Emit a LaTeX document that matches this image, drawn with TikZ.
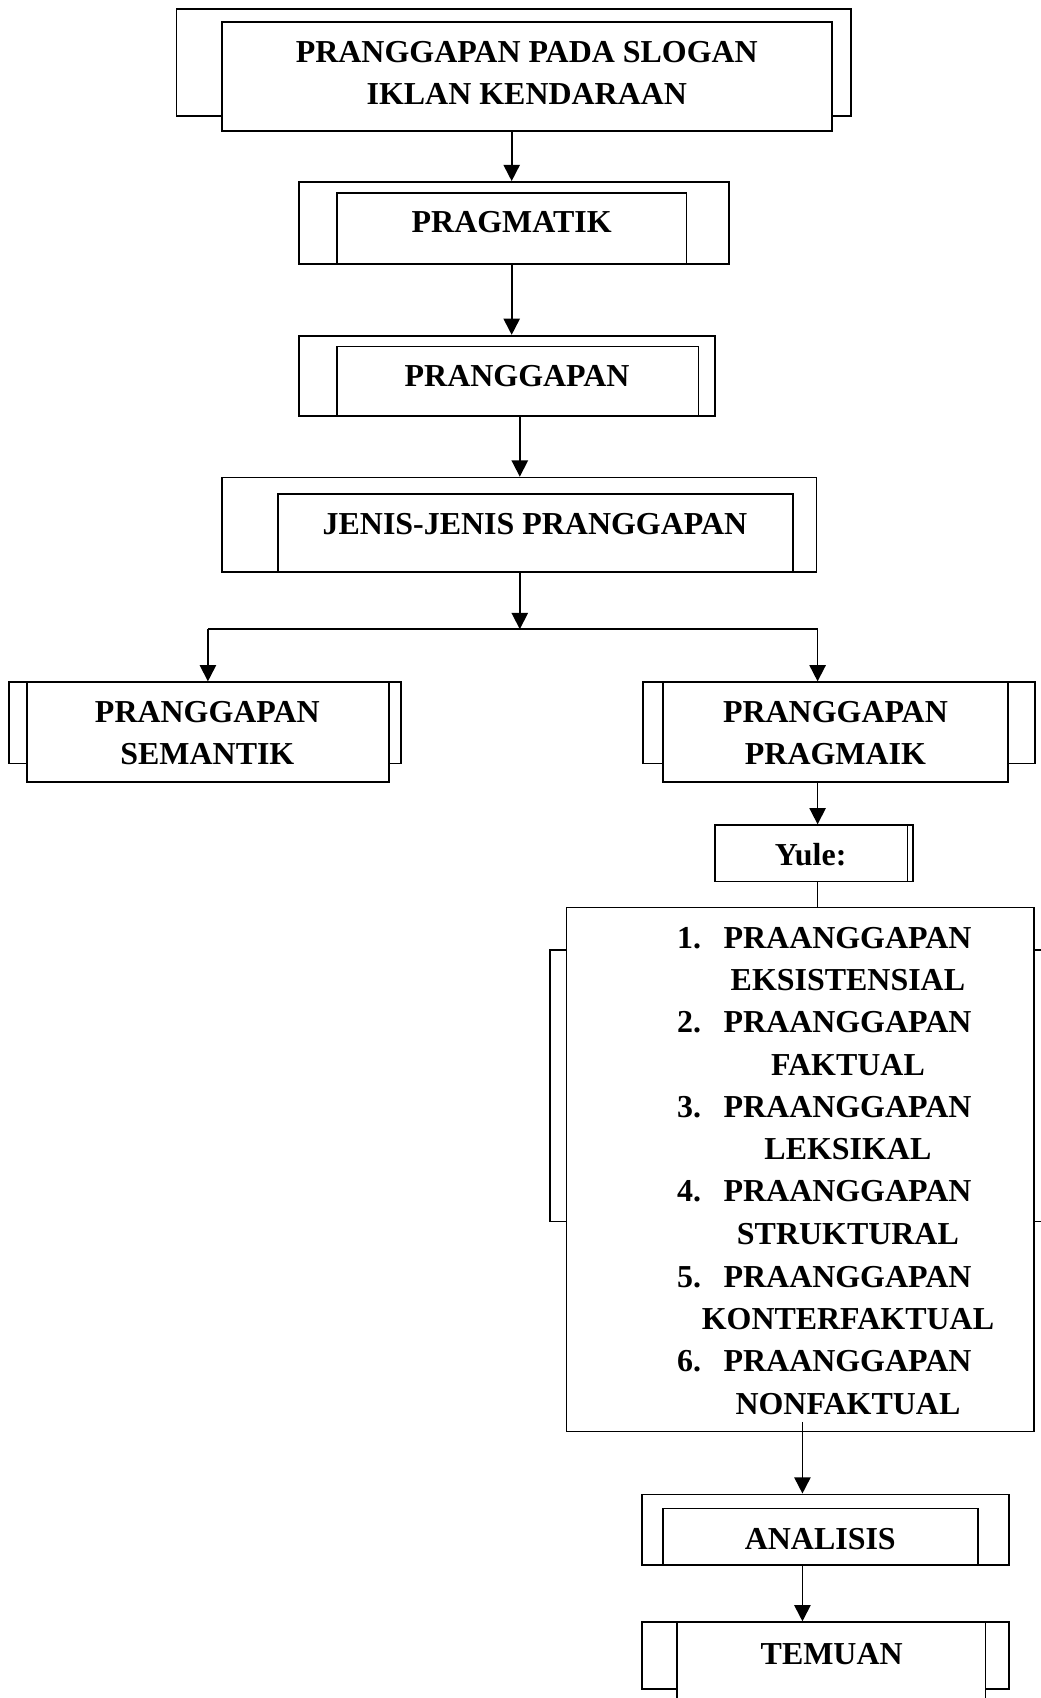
\documentclass[tikz,border=0pt]{standalone}
\usepackage{fontspec}
\setmainfont{Liberation Serif}
\usetikzlibrary{arrows.meta}
\begin{document}
\begin{tikzpicture}[x=1pt,y=-1pt,
  box/.style={draw, fill=white, line width=1.6pt, inner sep=0pt, rectangle},
  lbl/.style={font=\bfseries\fontsize{29.5}{39}\selectfont, inner sep=0pt, text depth=0pt},
  lbltwo/.style={font=\bfseries\fontsize{29.5}{39}\selectfont, inner sep=0pt, align=center},
  arr/.style={line width=1.6pt, -{Triangle[length=15pt,width=15pt]}},
  ln/.style={line width=1.6pt}]
\useasboundingbox (0,0) rectangle (961,1568);
\fill[white] (0,0) rectangle (961,1568);

% back boxes
\node[box, minimum width=623pt, minimum height=99pt] (n1b) at (474.5,57.5) {};
\node[box, minimum width=397pt, minimum height=76pt] (n2b) at (474.5,206) {};
\node[box, minimum width=384pt, minimum height=74pt] (n3b) at (468,347) {};
\node[box, minimum width=549pt, minimum height=87pt] (n4b) at (479.5,484.5) {};
\node[box, minimum width=362pt, minimum height=75pt] (n5b) at (189,667.5) {};
\node[box, minimum width=362pt, minimum height=75pt] (n6b) at (775,667.5) {};
\node[box, minimum width=183pt, minimum height=52pt] (n7b) at (751.5,788) {};
\node[box, minimum width=467pt, minimum height=251pt] (n8b) at (741.5,1002.5) {};
\node[box, minimum width=339pt, minimum height=65pt] (n9b) at (762.5,1412.5) {};
\node[box, minimum width=339pt, minimum height=62pt] (n10b) at (762.5,1529) {};

% front boxes
\node[box, minimum width=563pt, minimum height=101pt] (n1) at (486.5,70.5) {};
\node[box, minimum width=323pt, minimum height=66pt] (n2) at (472.5,211) {};
\node[box, minimum width=334pt, minimum height=64pt] (n3) at (478,352) {};
\node[box, minimum width=475pt, minimum height=72pt] (n4) at (494.5,492) {};
\node[box, minimum width=334pt, minimum height=92pt] (n5) at (192,676) {};
\node[box, minimum width=319pt, minimum height=92pt] (n6) at (771.5,676) {};
\node[box, minimum width=178pt, minimum height=52pt] (n7) at (749,788) {};
\node[box, minimum width=432pt, minimum height=484pt] (n8) at (739,1080) {};
\node[box, minimum width=291pt, minimum height=52pt] (n9) at (757.5,1419) {};
\node[box, minimum width=285pt, minimum height=92pt] (n10) at (767.5,1544) {};

% texts
\node[lbltwo] (t1) at (486.5,67.5) {PRANGGAPAN PADA SLOGAN\\IKLAN KENDARAAN};
\node[lbl] (t2) at (472.5,205) {PRAGMATIK};
\node[lbl] (t3) at (477.5,347) {PRANGGAPAN};
\node[lbl] (t4) at (494,484) {JENIS-JENIS PRANGGAPAN};
\node[lbltwo] (t5) at (191.5,677) {PRANGGAPAN\\SEMANTIK};
\node[lbltwo] (t6) at (771.5,677) {PRANGGAPAN\\PRAGMAIK};
\node[lbl] (t7) at (748.5,789) {Yule:};
\node[lbl] (t9) at (757.5,1421) {ANALISIS};
\node[lbl] (t10) at (768,1527) {TEMUAN};

% list
\node[lbl, anchor=west] (k1) at (625,866) {1.};
\node[lbl, anchor=west] (w1) at (668,866) {PRAANGGAPAN};
\node[lbl] (s1) at (783,905) {EKSISTENSIAL};
\node[lbl, anchor=west] (k2) at (625,944) {2.};
\node[lbl, anchor=west] (w2) at (668,944) {PRAANGGAPAN};
\node[lbl] (s2) at (783,983) {FAKTUAL};
\node[lbl, anchor=west] (k3) at (625,1022) {3.};
\node[lbl, anchor=west] (w3) at (668,1022) {PRAANGGAPAN};
\node[lbl] (s3) at (783,1061) {LEKSIKAL};
\node[lbl, anchor=west] (k4) at (625,1100) {4.};
\node[lbl, anchor=west] (w4) at (668,1100) {PRAANGGAPAN};
\node[lbl] (s4) at (783,1139) {STRUKTURAL};
\node[lbl, anchor=west] (k5) at (625,1179) {5.};
\node[lbl, anchor=west] (w5) at (668,1179) {PRAANGGAPAN};
\node[lbl] (s5) at (783,1218) {KONTERFAKTUAL};
\node[lbl, anchor=west] (k6) at (625,1257) {6.};
\node[lbl, anchor=west] (w6) at (668,1257) {PRAANGGAPAN};
\node[lbl] (s6) at (783,1296) {NONFAKTUAL};

% connectors
\coordinate (j) at (480,581);
\coordinate (jr) at (755,581);
\coordinate (ls) at (741,1313);
\draw[arr] (n1.south -| n2.north) -- (n2b.north -| n2.north);
\draw[arr] (n2.south) -- (n3b.north -| n2.south);
\draw[arr] (n3.south -| j) -- (n4b.north -| j);
\draw[arr] (n4b.south -| j) -- (j);
\draw[ln] (n5.north |- j) -- (jr);
\draw[arr] (n5.north |- j) -- (n5.north);
\draw[arr] (jr) -- (n6.north -| jr);
\draw[arr] (n6.south -| jr) -- (n7.north -| jr);
\draw[ln] (n7.south -| jr) -- (n8.north -| jr);
\draw[arr] (ls) -- (n9b.north -| ls);
\draw[arr] (n9.south -| ls) -- (n10b.north -| ls);
\end{tikzpicture}
\end{document}
